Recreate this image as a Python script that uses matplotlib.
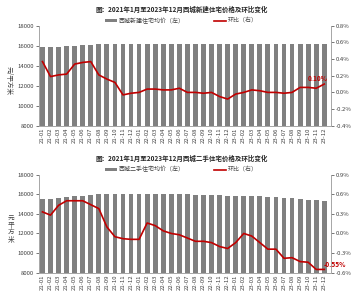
import matplotlib.pyplot as plt
import numpy as np

plt.rcParams['font.family'] = ['Noto Sans CJK SC', 'DejaVu Sans']

months = ['21-01', '21-02', '21-03', '21-04', '21-05', '21-06', '21-07', '21-08', '21-09', '21-10', '21-11', '21-12',
          '22-01', '22-02', '22-03', '22-04', '22-05', '22-06', '22-07', '22-08', '22-09', '22-10', '22-11', '22-12',
          '23-01', '23-02', '23-03', '23-04', '23-05', '23-06', '23-07', '23-08', '23-09', '23-10', '23-11', '23-12']

# new homes: average price (left) and month-on-month change in % (right)
new_price = [15850, 15850, 15900, 15950, 16000, 16050, 16100, 16150, 16180, 16180, 16180, 16180,
             16180, 16180, 16180, 16180, 16180, 16180, 16180, 16180, 16180, 16180, 16180, 16180,
             16180, 16180, 16180, 16180, 16180, 16180, 16180, 16180, 16180, 16180, 16180, 16180]
new_mom = [0.37, 0.19, 0.21, 0.22, 0.34, 0.36, 0.37, 0.21, 0.16, 0.12, -0.03, -0.01,
           0.0, 0.04, 0.04, 0.03, 0.03, 0.05, 0.0, 0.0, -0.01, 0.0, -0.05, -0.08,
           -0.02, 0.0, 0.03, 0.02, 0.0, 0.0, -0.01, 0.0, 0.06, 0.06, 0.05, 0.10]

# second-hand homes
old_price = [15550, 15550, 15650, 15700, 15800, 15850, 15950, 16000, 16050, 15980, 15980, 15980,
             15980, 15980, 16000, 16050, 16000, 16000, 16050, 15950, 15950, 15950, 15900, 15850,
             15850, 15850, 15850, 15800, 15750, 15750, 15650, 15600, 15550, 15450, 15400, 15300]
old_mom = [0.33, 0.28, 0.43, 0.50, 0.50, 0.50, 0.44, 0.38, 0.10, -0.05, -0.08, -0.09,
           -0.09, 0.16, 0.12, 0.04, 0.0, -0.02, -0.07, -0.12, -0.12, -0.14, -0.20, -0.23,
           -0.14, 0.0, -0.04, -0.14, -0.24, -0.24, -0.38, -0.37, -0.43, -0.44, -0.55, -0.55]

fig = plt.figure(figsize=(3.63, 3.0), dpi=100)

bar_c = '#808080'
line_c = '#c00000'
tick_c = '#404040'
spine_c = '#a6a6a6'
fs = 4.3

def panel(rect, title, bar_label, price, mom, rticks, rlim, end_txt, end_xy, ylab_upright):
    ax = fig.add_axes(rect)
    x = np.arange(len(months))
    ax.bar(x, price, width=0.6, color=bar_c, label=bar_label, zorder=2)
    ax.set_ylim(8000, 18000)
    ax.set_yticks(np.arange(8000, 18001, 2000))
    ax.set_xlim(-0.45, len(months) - 0.2)
    ax.set_xticks(x)
    ax.set_xticklabels(months, rotation=90)
    ax2 = ax.twinx()
    ax2.plot(x, mom, color=line_c, lw=1.2, label='环比（右）', zorder=3)
    ax2.set_ylim(*rlim)
    ax2.set_yticks(rticks)
    ax2.set_yticklabels(['%.1f%%' % t for t in rticks])
    for a in (ax, ax2):
        a.tick_params(labelsize=fs, colors=tick_c, length=2, width=0.5, pad=1.5)
        a.spines['top'].set_visible(False)
        for s in ('left', 'right', 'bottom'):
            a.spines[s].set_color(spine_c)
            a.spines[s].set_linewidth(0.6)
    ax.tick_params(axis='x', length=0)
    ymid = rect[1] + rect[3] * 0.45
    if ylab_upright:
        fig.text(0.03, ymid, '元\n平\n方\n米', ha='center', va='center', fontsize=fs + 0.5,
                 color=tick_c, linespacing=0.9)
    else:
        fig.text(0.025, ymid, '元/平方米', rotation=270, ha='center', va='center',
                 fontsize=fs + 0.5, color=tick_c)
    ax2.text(end_xy[0], end_xy[1], end_txt, color=line_c, fontsize=fs + 0.4, fontweight='bold',
             ha='center', va='center', zorder=5)
    top = rect[1] + rect[3]
    fig.text(0.5, top + 0.055, title, ha='center', va='center', fontsize=4.7, fontweight='bold',
             color='#262626')
    h1, l1 = ax.get_legend_handles_labels()
    h2, l2 = ax2.get_legend_handles_labels()
    fig.legend(h1 + h2, l1 + l2, loc='center', bbox_to_anchor=(0.5, top + 0.017), ncol=2,
               frameon=False, fontsize=fs, handlelength=2.0, handleheight=0.5,
               columnspacing=5, handletextpad=0.3, labelcolor=tick_c)
    return ax, ax2

panel([0.107, 0.581, 0.804, 0.333], '图：2021年1月至2023年12月西城新建住宅价格及环比变化',
      '西城新建住宅均价（左）', new_price, new_mom, [-0.4, -0.2, 0.0, 0.2, 0.4, 0.6, 0.8],
      (-0.4, 0.8), '0.10%', (34.2, 0.17), False)
panel([0.107, 0.091, 0.804, 0.327], '图：2021年1月至2023年12月西城二手住宅价格及环比变化',
      '西城二手住宅均价（左）', old_price, old_mom, [-0.6, -0.3, 0.0, 0.3, 0.6, 0.9],
      (-0.6, 0.9), '-0.55%', (36.3, -0.48), True)

fig.savefig('out.png', dpi=100)
